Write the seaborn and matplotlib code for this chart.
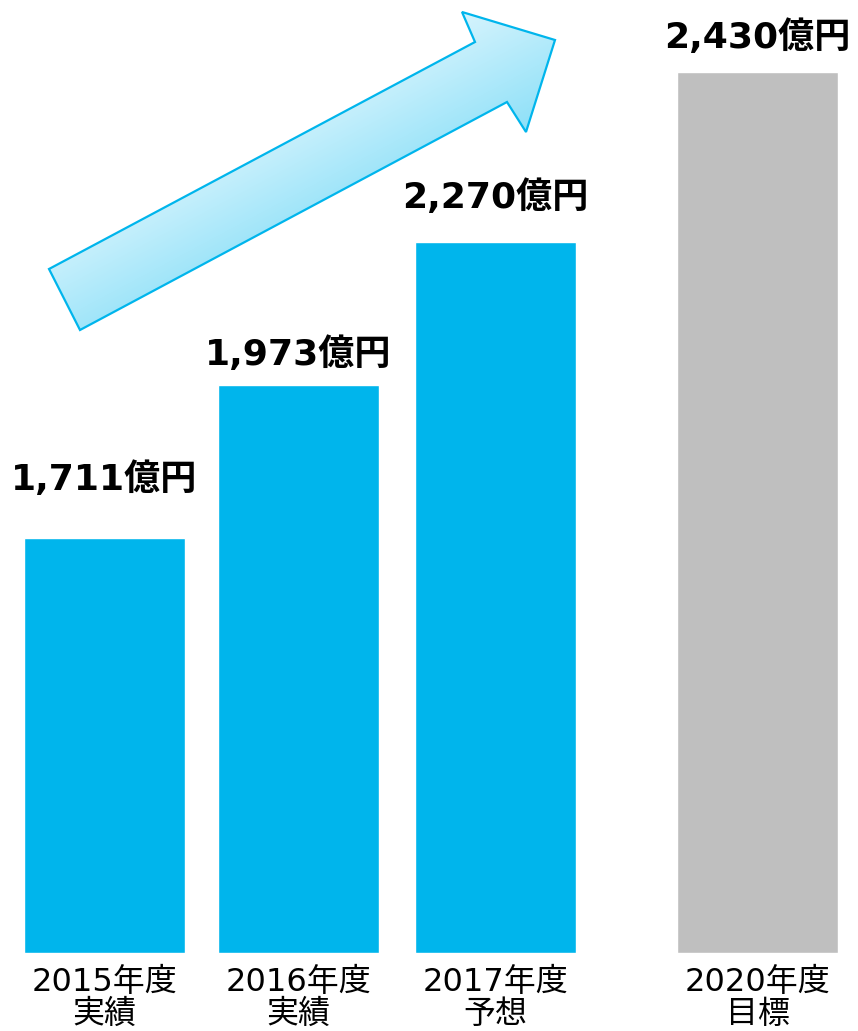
import numpy as np
import pandas as pd
import matplotlib
matplotlib.use("Agg")
import matplotlib.pyplot as plt
from matplotlib.patches import Polygon
from matplotlib.colors import LinearSegmentedColormap
import seaborn as sns

# data (bar heights are the drawn heights; labels are the printed values)
categories = ["2015年度\n実績", "2016年度\n実績", "2017年度\n予想", "2020年度\n目標"]
value_labels = ["1,711億円", "1,973億円", "2,270億円", "2,430億円"]
bar_heights = [415, 568, 711, 881]
bar_colors = ["#00B5EC", "#00B5EC", "#00B5EC", "#BFBFBF"]

# layout: the 2020 bar sits a bit further right, labels float at uneven gaps
x_pos = [0.0, 1.0, 2.015, 3.366]
label_gap = [48, 20, 34, 24]

sns.set_style("white")
fonts = ["DejaVu Sans", "Noto Sans CJK JP"]
plt.rcParams["font.family"] = fonts

df = pd.DataFrame({"pos": x_pos, "height": bar_heights, "cat": categories})

fig = plt.figure(figsize=(8.58, 10.31), dpi=100)
ax = fig.add_axes([0, 78 / 1031, 1, 953 / 1031])
sns.barplot(data=df, x="pos", y="height", hue="cat", palette=bar_colors,
            native_scale=True, dodge=False, width=0.83, saturation=1,
            legend=False, ax=ax)
ax.set_xlim(-0.5387, -0.5387 + 858 / 194)
ax.set_ylim(0, 953)
sns.despine(ax=ax, left=True, bottom=True)
ax.set_yticks([])
ax.set_xticks(x_pos)
ax.set_xticklabels(categories, fontsize=23, linespacing=1.05,
                   family=fonts, color="black")
ax.tick_params(axis="x", length=0, pad=10)
ax.set_xlabel("")
ax.set_ylabel("")

for x, h, g, lab in zip(x_pos, bar_heights, label_gap, value_labels):
    ax.text(x, h + g, lab, ha="center", va="baseline", fontsize=26,
            fontweight="bold", family=fonts, color="black")

# gradient arrow overlay (pixel coordinates)
ov = fig.add_axes([0, 0, 1, 1], zorder=5)
ov.set_xlim(0, 858)
ov.set_ylim(1031, 0)
ov.axis("off")
ov.patch.set_alpha(0)

arrow = np.array([(80, 330), (49, 269), (475, 42), (462, 12),
                  (555, 40), (526, 132), (507, 102)])
d = np.array([426.0, -227.0])
n = np.array([-d[1], d[0]]) / np.hypot(*d)
proj = (arrow - arrow[1]) @ n
yy, xx = np.mgrid[0:1031, 0:858]
t = ((xx - arrow[1][0]) * n[0] + (yy - arrow[1][1]) * n[1] - proj.min()) / (proj.max() - proj.min())
cmap = LinearSegmentedColormap.from_list("arr", ["#D6F4FD", "#8DE0F8"])
im = ov.imshow(t, cmap=cmap, vmin=0, vmax=1, extent=(0, 858, 1031, 0), origin="upper")
poly = Polygon(arrow, closed=True, facecolor="none", edgecolor="#00B5EC", linewidth=1.6)
ov.add_patch(poly)
im.set_clip_path(poly)

fig.savefig("out.png", dpi=100)
